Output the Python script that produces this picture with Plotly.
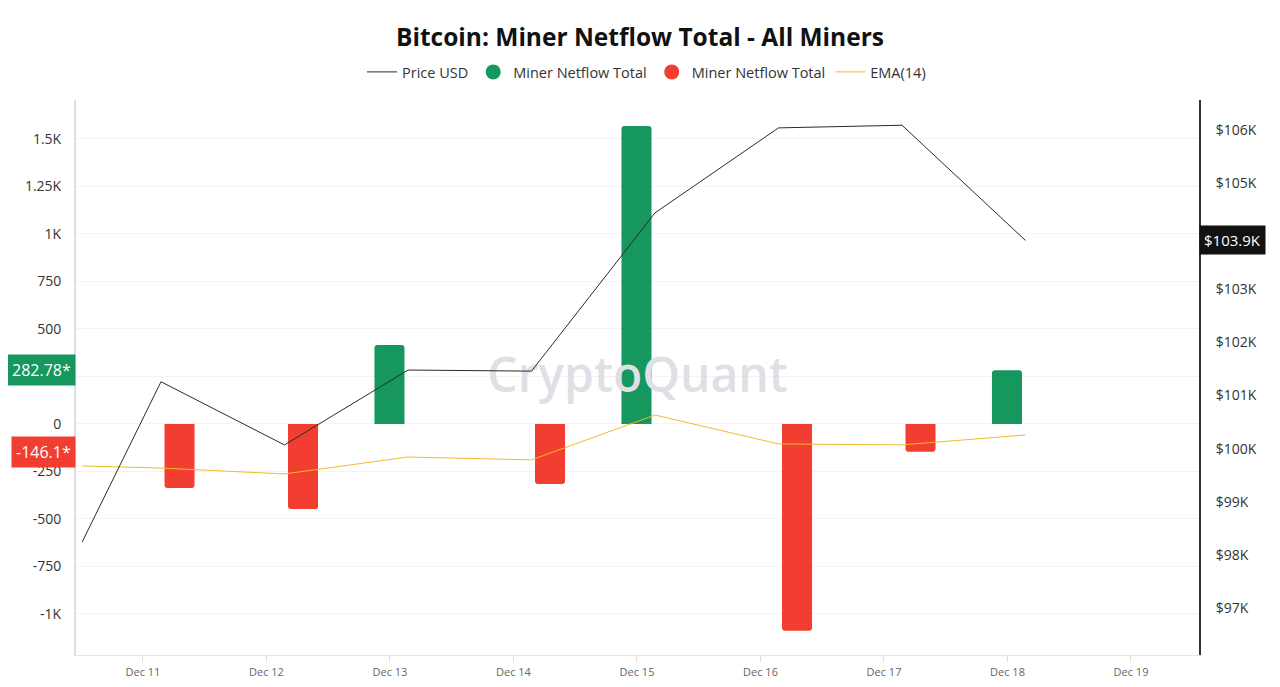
import plotly.graph_objects as go
import pandas as pd

# ---------------- data ----------------
bar_dates = ["2024-12-11", "2024-12-12", "2024-12-13", "2024-12-14",
             "2024-12-15", "2024-12-16", "2024-12-17", "2024-12-18"]
netflow = [-337, -447, 416, -316, 1568, -1089, -146.1, 282.78]

line_dates = ["2024-12-10 08:40"] + bar_dates
price_usd = [98240, 101260, 100070, 101480, 101460, 104440, 106040, 106090, 103920]
ema14 = [-221, -232, -263, -174, -189, 47, -105, -110, -58]

x_tick_dates = ["2024-12-11", "2024-12-12", "2024-12-13", "2024-12-14", "2024-12-15",
                "2024-12-16", "2024-12-17", "2024-12-18", "2024-12-19"]
x_tick_labels = ["Dec 11", "Dec 12", "Dec 13", "Dec 14", "Dec 15",
                 "Dec 16", "Dec 17", "Dec 18", "Dec 19"]

# 250 label is hidden behind the latest-value badge in the reference
left_tickvals = [-1000, -750, -500, -250, 0, 250, 500, 750, 1000, 1250, 1500]
left_ticktext = ["-1K", "-750", "-500", "-250", "0", "", "500", "750", "1K", "1.25K", "1.5K"]

# $104K label is hidden behind the latest-price badge in the reference
right_tickvals = [97000, 98000, 99000, 100000, 101000, 102000, 103000, 104000, 105000, 106000]
right_ticktext = ["$97K", "$98K", "$99K", "$100K", "$101K", "$102K", "$103K", "", "$105K", "$106K"]

GREEN = "#15975e"
RED = "#f23d31"
YELLOW = "#f5b82a"
FONT = "Open Sans"

green_vals = [v if v >= 0 else None for v in netflow]
red_vals = [v if v < 0 else None for v in netflow]

fig = go.Figure()

x_range = [pd.Timestamp("2024-12-10 07:29"), pd.Timestamp("2024-12-19 09:43")]
y_range = [-1216, 1705]
y2_range = [96115, 106565]

# watermark (drawn first so it sits behind the marks)
fig.add_trace(go.Scatter(
    x=[x_range[0] + (x_range[1] - x_range[0]) / 2],
    y=[(y_range[0] + y_range[1]) / 2 - 12],
    mode="text", text=["CryptoQuant"],
    textfont=dict(family=FONT, size=48, color="#dfdfe5", weight=600),
    showlegend=False, hoverinfo="skip"))

fig.add_trace(go.Bar(x=bar_dates, y=green_vals, marker_color=GREEN,
                     marker_line_width=0, showlegend=False, name="Miner Netflow Total"))
fig.add_trace(go.Bar(x=bar_dates, y=red_vals, marker_color=RED,
                     marker_line_width=0, showlegend=False, name="Miner Netflow Total"))

fig.add_trace(go.Scatter(x=line_dates, y=price_usd, yaxis="y2", mode="lines",
                         line=dict(color="#2b2b2b", width=1), name="Price USD",
                         legendrank=1))
fig.add_trace(go.Scatter(x=line_dates, y=ema14, mode="lines",
                         line=dict(color=YELLOW, width=1), name="EMA(14)",
                         legendrank=4))

# legend-only circle markers
fig.add_trace(go.Scatter(x=[None], y=[None], mode="markers",
                         marker=dict(color=GREEN, size=15, symbol="circle"),
                         name="Miner Netflow Total", legendrank=2))
fig.add_trace(go.Scatter(x=[None], y=[None], mode="markers",
                         marker=dict(color=RED, size=15, symbol="circle"),
                         name="Miner Netflow Total", legendrank=3))

tick_positions = [pd.Timestamp(d) - pd.Timedelta(hours=3.5) for d in x_tick_dates]

W, H = 1264, 671  # page body adds an 8px margin
fig.update_layout(
    width=W, height=H,
    paper_bgcolor="white", plot_bgcolor="white",
    margin=dict(l=68, r=73, t=92, b=24, autoexpand=False),
    font=dict(family=FONT, color="#333"),
    title=dict(text="<b>Bitcoin: Miner Netflow Total - All Miners</b>",
               x=0.5, xanchor="center", y=1 - 29 / H, yanchor="middle",
               font=dict(size=24.5, color="#111", family=FONT)),
    legend=dict(orientation="h", x=0.508, xanchor="center", y=1.0505, yanchor="middle",
                font=dict(size=14.5, color="#333"), itemwidth=30,
                bgcolor="rgba(0,0,0,0)", traceorder="normal"),
    barmode="group", bargap=0.40, bargroupgap=0.19, barcornerradius=3,
    xaxis=dict(type="date", range=x_range, tickvals=tick_positions, ticktext=x_tick_labels,
               showgrid=False, zeroline=False, showline=True, linecolor="#e6e6e6", linewidth=1,
               ticks="outside", ticklen=6, tickcolor="#e0e0e0", automargin=False,
               ticklabelstandoff=1,
               tickfont=dict(size=11, color="#666")),
    yaxis=dict(range=y_range, tickvals=left_tickvals, ticktext=left_ticktext,
               showgrid=True, gridcolor="#f3f3f3", zeroline=False,
               showline=True, linecolor="#dedede", linewidth=2, automargin=False,
               ticks="", ticklabelstandoff=10,
               tickfont=dict(size=14, color="#333")),
    yaxis2=dict(range=y2_range, overlaying="y", side="right",
                tickvals=right_tickvals, ticktext=right_ticktext,
                showgrid=False, zeroline=False, automargin=False,
                showline=True, linecolor="#333", linewidth=2,
                ticks="", ticklabelstandoff=12,
                tickfont=dict(size=14, color="#333")),
    showlegend=True,
)

fig.add_annotation(x=0, xref="paper", xanchor="right", y=netflow[-1], yref="y",
                   text=f"{netflow[-1]}*", showarrow=False, bgcolor=GREEN,
                   font=dict(size=16, color="white", family=FONT), borderpad=4)
fig.add_annotation(x=0, xref="paper", xanchor="right", y=netflow[-2], yref="y",
                   text=f"{netflow[-2]}*", showarrow=False, bgcolor=RED,
                   font=dict(size=16, color="white", family=FONT), borderpad=4)
fig.add_annotation(x=1, xref="paper", xanchor="left", y=price_usd[-1], yref="y2",
                   text=f"${price_usd[-1] / 1000:.1f}K", showarrow=False, bgcolor="#111",
                   font=dict(size=15, color="white", family=FONT), borderpad=4)

fig.write_html("out.html")
